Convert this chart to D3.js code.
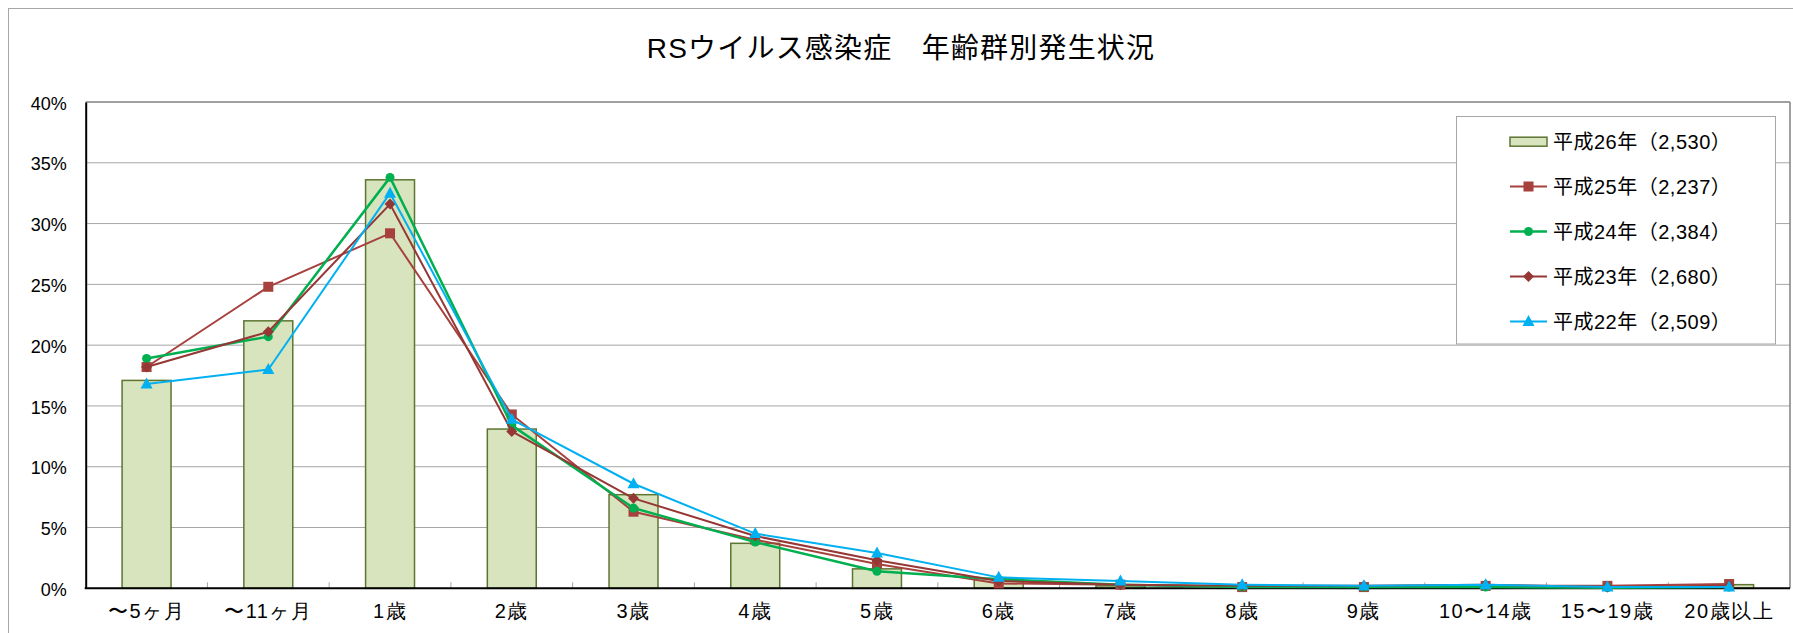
<!DOCTYPE html>
<html><head><meta charset="utf-8">
<script src="https://cdn.jsdelivr.net/npm/d3@7"></script>
<style>
html,body{margin:0;padding:0;background:#fff;}
svg{display:block;font-family:"Liberation Sans","Noto Sans CJK JP",sans-serif;}
</style></head>
<body>
<svg id="chart" width="1793" height="633"></svg>
<script>
const categories = ["〜5ヶ月","〜11ヶ月","1歳","2歳","3歳","4歳","5歳","6歳","7歳","8歳","9歳","10〜14歳","15〜19歳","20歳以上"];
const h26 = [17.1, 22.0, 33.6, 13.1, 7.7, 3.7, 1.6, 0.8, 0.2, 0.1, 0.1, 0.2, 0.05, 0.3];
const h25 = [18.2, 24.8, 29.2, 14.3, 6.3, 4.0, 2.0, 0.4, 0.3, 0.1, 0.1, 0.2, 0.2, 0.35];
const h24 = [18.9, 20.7, 33.8, 13.4, 6.6, 3.8, 1.4, 0.75, 0.3, 0.1, 0.1, 0.1, 0.05, 0.1];
const h23 = [18.2, 21.1, 31.6, 12.9, 7.4, 4.3, 2.3, 0.6, 0.3, 0.2, 0.2, 0.3, 0.1, 0.2];
const h22 = [16.8, 18.0, 32.5, 13.9, 8.6, 4.5, 2.9, 0.9, 0.6, 0.3, 0.2, 0.3, 0.1, 0.1];
const yTicks = [0, 5, 10, 15, 20, 25, 30, 35, 40];
const title = "RSウイルス感染症　年齢群別発生状況";
const barLabel = "平成26年（2,530）";
const lineSeries = [
  {name:"平成25年（2,237）", values:h25, color:"#A6413E", marker:"square", width:2},
  {name:"平成24年（2,384）", values:h24, color:"#00B050", marker:"circle", width:2.5},
  {name:"平成23年（2,680）", values:h23, color:"#953735", marker:"diamond", width:2},
  {name:"平成22年（2,509）", values:h22, color:"#00B0F0", marker:"triangle", width:2}
];

const svg = d3.select("#chart");
const L = 85.7, R = 1790, T = 102, B = 588.3;

// outer border
svg.append("rect").attr("x",8.5).attr("y",8.5).attr("width",1800).attr("height",700)
  .attr("fill","none").attr("stroke","#A6A6A6").attr("stroke-width",1);

// title
svg.append("text").attr("x",901).attr("y",48).attr("text-anchor","middle")
  .attr("dominant-baseline","central").attr("font-size",28).attr("letter-spacing","1.2px")
  .attr("fill","#000").text(title);

const x = d3.scaleBand().domain(categories).range([L, R]).paddingInner(0).paddingOuter(0);
const y = d3.scaleLinear().domain([0, 40]).range([B, T]);

// gridlines
svg.append("g").selectAll("line").data(yTicks.filter(t=>t>0)).join("line")
  .attr("x1",L).attr("x2",R).attr("y1",d=>y(d)).attr("y2",d=>y(d))
  .attr("stroke",d=>d===40?"#808080":"#A6A6A6").attr("stroke-width",d=>d===40?1.5:1);
// right border of plot
svg.append("line").attr("x1",R).attr("x2",R).attr("y1",T).attr("y2",B)
  .attr("stroke","#808080").attr("stroke-width",1.5);

// y axis
const yAxis = d3.axisLeft(y).tickValues(yTicks).tickSize(0).tickPadding(19).tickFormat(d=>d+"%");
const yg = svg.append("g").attr("transform",`translate(${L},0)`).call(yAxis);
yg.select(".domain").attr("stroke","#000").attr("stroke-width",2);
yg.selectAll("text").attr("font-size",18).attr("fill","#000")
  .attr("font-family","'Liberation Sans Narrow','Liberation Sans',sans-serif")
  .attr("dy","0.4em");

// bars
const bw = x.bandwidth()*0.402;
svg.append("g").selectAll("rect").data(h26).join("rect")
  .attr("x",(d,i)=>x(categories[i])+x.bandwidth()/2-bw/2)
  .attr("y",d=>y(d)).attr("width",bw).attr("height",d=>B-y(d))
  .attr("fill","#D7E4BD").attr("stroke","#5E7532").attr("stroke-width",1.5);

// x axis
const xAxis = d3.axisBottom(x).tickSize(0).tickPadding(20);
const xg = svg.append("g").attr("transform",`translate(0,${B})`).call(xAxis);
xg.select(".domain").remove();
xg.selectAll("text").attr("font-size",20).attr("fill","#000").attr("letter-spacing","1.5px")
  .attr("dy","0.5em");
// inner tick marks at category boundaries
svg.append("g").selectAll("line").data(categories.slice(1)).join("line")
  .attr("x1",d=>x(d)).attr("x2",d=>x(d)).attr("y1",B).attr("y2",B-6)
  .attr("stroke","#A6A6A6").attr("stroke-width",1);
svg.append("line").attr("x1",L-1).attr("x2",R).attr("y1",B).attr("y2",B)
  .attr("stroke","#000").attr("stroke-width",2);

function drawMarker(g, type, cx, cy, color){
  if(type==="square"){
    g.append("rect").attr("x",cx-5).attr("y",cy-5).attr("width",10).attr("height",10).attr("fill",color);
  } else if(type==="circle"){
    g.append("circle").attr("cx",cx).attr("cy",cy).attr("r",4.5).attr("fill",color);
  } else if(type==="diamond"){
    g.append("path").attr("d",`M${cx},${cy-5.5}L${cx+5.5},${cy}L${cx},${cy+5.5}L${cx-5.5},${cy}Z`).attr("fill",color);
  } else if(type==="triangle"){
    g.append("path").attr("d",`M${cx},${cy-6.5}L${cx+6},${cy+4.5}L${cx-6},${cy+4.5}Z`).attr("fill",color);
  }
}

const line = d3.line().x((d,i)=>x(categories[i])+x.bandwidth()/2).y(d=>y(d));
lineSeries.forEach(s=>{
  const g = svg.append("g");
  g.append("path").datum(s.values).attr("d",line).attr("fill","none")
    .attr("stroke",s.color).attr("stroke-width",s.width).attr("stroke-linejoin","round");
  s.values.forEach((v,i)=>drawMarker(g, s.marker, x(categories[i])+x.bandwidth()/2, y(v), s.color));
});

// legend
const lg = svg.append("g");
lg.append("rect").attr("x",1456.5).attr("y",116.5).attr("width",319).attr("height",227.5)
  .attr("fill","#fff").attr("stroke","#A6A6A6").attr("stroke-width",1);
const legY = [141.7, 186.5, 231.5, 276.5, 321.5];
const sx0 = 1510, sx1 = 1547, tx = 1553;
lg.append("rect").attr("x",sx0).attr("y",legY[0]-4.5).attr("width",sx1-sx0).attr("height",9)
  .attr("fill","#D7E4BD").attr("stroke","#5E7532").attr("stroke-width",1.5);
lg.append("text").attr("x",tx).attr("y",legY[0]).attr("dominant-baseline","central")
  .attr("font-size",20).attr("letter-spacing","0.5px").attr("fill","#000").text(barLabel);
lineSeries.forEach((s,k)=>{
  const yy = legY[k+1];
  lg.append("line").attr("x1",sx0).attr("x2",sx1).attr("y1",yy).attr("y2",yy)
    .attr("stroke",s.color).attr("stroke-width",s.width);
  drawMarker(lg, s.marker, (sx0+sx1)/2, yy, s.color);
  lg.append("text").attr("x",tx).attr("y",yy).attr("dominant-baseline","central")
    .attr("font-size",20).attr("letter-spacing","0.5px").attr("fill","#000").text(s.name);
});
</script>
</body></html>
